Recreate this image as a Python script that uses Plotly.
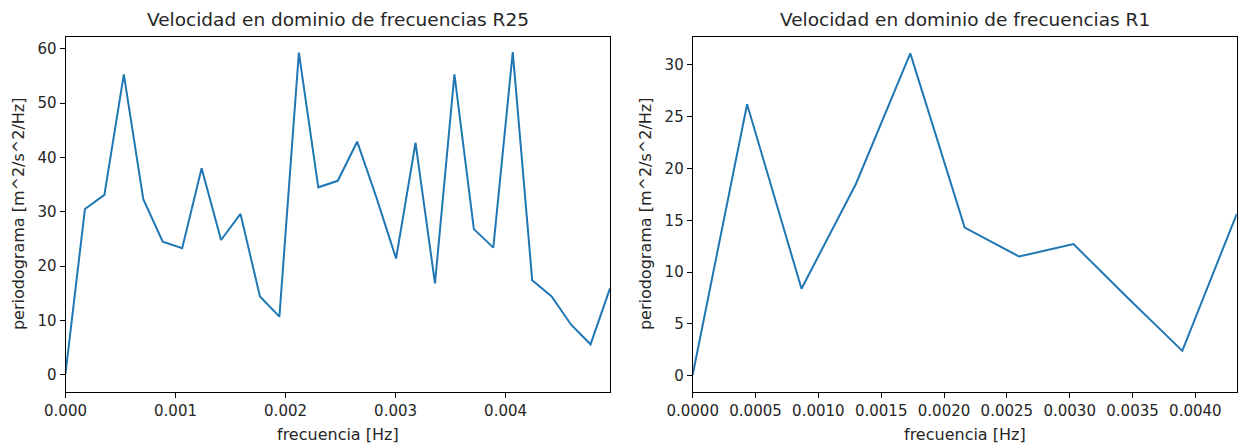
import plotly.graph_objects as go

# ---- data ----
freq_r25 = [0.0, 0.0001767, 0.0003535, 0.0005302, 0.0007070, 0.0008837, 0.0010605,
            0.0012372, 0.0014140, 0.0015907, 0.0017675, 0.0019442, 0.0021210,
            0.0022977, 0.0024745, 0.0026512, 0.0028280, 0.0030047, 0.0031815,
            0.0033582, 0.0035350, 0.0037117, 0.0038885, 0.0040652, 0.0042420,
            0.0044187, 0.0045955, 0.0047722, 0.0049490]
per_r25 = [0.2, 30.5, 33.1, 55.3, 32.3, 24.5, 23.3, 38.0, 24.8, 29.6, 14.4, 10.7,
           59.3, 34.5, 35.7, 42.9, 32.5, 21.4, 42.7, 16.8, 55.3, 26.8, 23.4, 59.4,
           17.4, 14.4, 9.2, 5.6, 15.9]

freq_r1 = [0.0, 0.0004329, 0.0008658, 0.0012987, 0.0017316, 0.0021645, 0.0025974,
           0.0030303, 0.0034632, 0.0038961, 0.0043290]
per_r1 = [0.1, 26.2, 8.4, 18.5, 31.1, 14.3, 11.5, 12.7, 7.5, 2.4, 15.6]

titles = ["Velocidad en dominio de frecuencias R25", "Velocidad en dominio de frecuencias R1"]
xlabel = "frecuencia [Hz]"
ylabel = "periodograma [m^2/s^2/Hz]"

W, H = 1252, 446
FONT = "DejaVu Sans"
TXT = "#262626"
LINE = "#1f77b4"

fig = go.Figure()
fig.add_trace(go.Scatter(x=freq_r25, y=per_r25, mode="lines", xaxis="x", yaxis="y",
                         line=dict(color=LINE, width=2), showlegend=False))
fig.add_trace(go.Scatter(x=freq_r1, y=per_r1, mode="lines", xaxis="x2", yaxis="y2",
                         line=dict(color=LINE, width=2), showlegend=False))

# pixel geometry of the two axes boxes
L1, R1 = 65.5, 610.0
L2, R2 = 692.7, 1236.7
TOP, BOT = 36.5, 391.7
ydom = [(H - BOT) / H, (H - TOP) / H]

ax_common = dict(showline=True, linecolor="black", linewidth=1, mirror=True,
                 ticks="outside", ticklen=5, tickcolor="black", tickwidth=1,
                 showgrid=False, zeroline=False, automargin=False,
                 tickfont=dict(family=FONT, size=15, color=TXT))

fig.update_layout(
    template="none",
    width=W, height=H,
    margin=dict(l=0, r=0, t=0, b=0, autoexpand=False),
    paper_bgcolor="white", plot_bgcolor="white",
    xaxis=dict(domain=[L1 / W, R1 / W], range=[0, max(freq_r25)],
               tickvals=[0, 0.001, 0.002, 0.003, 0.004], tickformat=".3f",
               anchor="y", **ax_common),
    yaxis=dict(domain=ydom, range=[-3.13, 62.27],
               tickvals=[0, 10, 20, 30, 40, 50, 60], anchor="x", **ax_common),
    xaxis2=dict(domain=[L2 / W, R2 / W], range=[0, max(freq_r1)],
                tickvals=[0, 0.0005, 0.001, 0.0015, 0.002, 0.0025, 0.003, 0.0035, 0.004],
                tickformat=".4f", anchor="y2", **ax_common),
    yaxis2=dict(domain=ydom, range=[-1.54, 32.73],
                tickvals=[0, 5, 10, 15, 20, 25, 30], anchor="x2", **ax_common),
)

ann = []
for i, (l, r) in enumerate([(L1, R1), (L2, R2)]):
    cx = (l + r) / 2 / W
    ann.append(dict(text=titles[i], x=cx, y=1 - 19 / H, xref="paper", yref="paper",
                    xanchor="center", yanchor="middle", showarrow=False,
                    font=dict(family=FONT, size=18.5, color=TXT)))
    ann.append(dict(text=xlabel, x=cx, y=1 - 434 / H, xref="paper", yref="paper",
                    xanchor="center", yanchor="middle", showarrow=False,
                    font=dict(family=FONT, size=16, color=TXT)))
ann.append(dict(text=ylabel, x=18 / W, y=(H - (TOP + BOT) / 2) / H, xref="paper", yref="paper",
                xanchor="center", yanchor="middle", textangle=-90, showarrow=False,
                font=dict(family=FONT, size=16, color=TXT)))
ann.append(dict(text=ylabel, x=645 / W, y=(H - (TOP + BOT) / 2) / H, xref="paper", yref="paper",
                xanchor="center", yanchor="middle", textangle=-90, showarrow=False,
                font=dict(family=FONT, size=16, color=TXT)))
fig.update_layout(annotations=ann)

fig.write_html("out.html")
